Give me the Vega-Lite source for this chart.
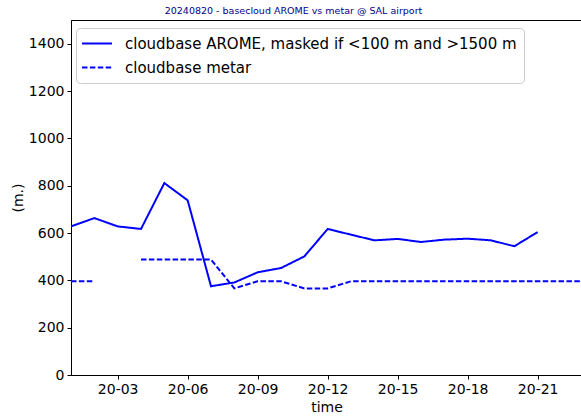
{
  "$schema": "https://vega.github.io/schema/vega-lite/v6.json",
  "width": 511,
  "height": 355,
  "autosize": {"type": "none"},
  "padding": {"left": 71, "top": 20, "right": 0, "bottom": 41},
  "title": {
    "text": "20240820 - basecloud AROME vs metar @ SAL airport",
    "fontSize": 9.5,
    "font": "DejaVu Sans",
    "fontWeight": "normal",
    "color": "#00008b",
    "anchor": "middle",
    "dx": -33,
    "offset": 5
  },
  "config": {
    "font": "DejaVu Sans",
    "view": {"stroke": "#000000", "strokeWidth": 1},
    "axis": {
      "grid": false,
      "labelFont": "DejaVu Sans",
      "titleFont": "DejaVu Sans",
      "labelFontSize": 14,
      "titleFontSize": 14,
      "titleFontWeight": "normal",
      "labelColor": "#000000",
      "titleColor": "#000000",
      "tickColor": "#000000",
      "domainColor": "#000000",
      "tickSize": 4
    },
    "legend": {
      "orient": "none",
      "legendX": 5,
      "legendY": 8,
      "padding": 7,
      "strokeColor": "#cccccc",
      "fillColor": "rgba(255,255,255,0.8)",
      "cornerRadius": 4,
      "symbolType": "M-1.267,0H2.733",
      "symbolSize": 225,
      "symbolStrokeWidth": 2,
      "labelFont": "DejaVu Sans",
      "labelFontSize": 15,
      "labelColor": "#000000",
      "labelOffset": 25,
      "rowPadding": 7,
      "labelLimit": 600
    }
  },
  "data": {
    "values": [
      {"hour": 1, "series": "cloudbase AROME, masked if <100 m and >1500 m", "value": 628},
      {"hour": 2, "series": "cloudbase AROME, masked if <100 m and >1500 m", "value": 663},
      {"hour": 3, "series": "cloudbase AROME, masked if <100 m and >1500 m", "value": 628},
      {"hour": 4, "series": "cloudbase AROME, masked if <100 m and >1500 m", "value": 617},
      {"hour": 5, "series": "cloudbase AROME, masked if <100 m and >1500 m", "value": 811},
      {"hour": 6, "series": "cloudbase AROME, masked if <100 m and >1500 m", "value": 738},
      {"hour": 7, "series": "cloudbase AROME, masked if <100 m and >1500 m", "value": 375},
      {"hour": 8, "series": "cloudbase AROME, masked if <100 m and >1500 m", "value": 391},
      {"hour": 9, "series": "cloudbase AROME, masked if <100 m and >1500 m", "value": 434},
      {"hour": 10, "series": "cloudbase AROME, masked if <100 m and >1500 m", "value": 452},
      {"hour": 11, "series": "cloudbase AROME, masked if <100 m and >1500 m", "value": 501},
      {"hour": 12, "series": "cloudbase AROME, masked if <100 m and >1500 m", "value": 617},
      {"hour": 13, "series": "cloudbase AROME, masked if <100 m and >1500 m", "value": 593},
      {"hour": 14, "series": "cloudbase AROME, masked if <100 m and >1500 m", "value": 569},
      {"hour": 15, "series": "cloudbase AROME, masked if <100 m and >1500 m", "value": 575},
      {"hour": 16, "series": "cloudbase AROME, masked if <100 m and >1500 m", "value": 562},
      {"hour": 17, "series": "cloudbase AROME, masked if <100 m and >1500 m", "value": 572},
      {"hour": 18, "series": "cloudbase AROME, masked if <100 m and >1500 m", "value": 576},
      {"hour": 19, "series": "cloudbase AROME, masked if <100 m and >1500 m", "value": 569},
      {"hour": 20, "series": "cloudbase AROME, masked if <100 m and >1500 m", "value": 544},
      {"hour": 21, "series": "cloudbase AROME, masked if <100 m and >1500 m", "value": 604},
      {"hour": 1, "series": "cloudbase metar", "value": 396},
      {"hour": 2, "series": "cloudbase metar", "value": 396},
      {"hour": 3, "series": "cloudbase metar", "value": null},
      {"hour": 4, "series": "cloudbase metar", "value": 488},
      {"hour": 5, "series": "cloudbase metar", "value": 488},
      {"hour": 6, "series": "cloudbase metar", "value": 488},
      {"hour": 7, "series": "cloudbase metar", "value": 488},
      {"hour": 8, "series": "cloudbase metar", "value": 366},
      {"hour": 9, "series": "cloudbase metar", "value": 396},
      {"hour": 10, "series": "cloudbase metar", "value": 396},
      {"hour": 11, "series": "cloudbase metar", "value": 366},
      {"hour": 12, "series": "cloudbase metar", "value": 366},
      {"hour": 13, "series": "cloudbase metar", "value": 396},
      {"hour": 14, "series": "cloudbase metar", "value": 396},
      {"hour": 15, "series": "cloudbase metar", "value": 396},
      {"hour": 16, "series": "cloudbase metar", "value": 396},
      {"hour": 17, "series": "cloudbase metar", "value": 396},
      {"hour": 18, "series": "cloudbase metar", "value": 396},
      {"hour": 19, "series": "cloudbase metar", "value": 396},
      {"hour": 20, "series": "cloudbase metar", "value": 396},
      {"hour": 21, "series": "cloudbase metar", "value": 396},
      {"hour": 22, "series": "cloudbase metar", "value": 396},
      {"hour": 23, "series": "cloudbase metar", "value": 396}
    ]
  },
  "mark": {"type": "line", "strokeWidth": 2, "clip": true, "invalid": "break-paths-filter-domains"},
  "encoding": {
    "x": {
      "field": "hour",
      "type": "quantitative",
      "scale": {"domain": [1, 22.9], "nice": false, "zero": false},
      "axis": {
        "values": [3, 6, 9, 12, 15, 18, 21],
        "labelExpr": "'20-' + (datum.value < 10 ? '0' : '') + datum.value",
        "title": "time",
        "labelPadding": 3,
        "titlePadding": 4
      }
    },
    "y": {
      "field": "value",
      "type": "quantitative",
      "scale": {"domain": [0, 1500], "nice": false},
      "axis": {
        "values": [0, 200, 400, 600, 800, 1000, 1200, 1400],
        "format": "d",
        "title": "(m.)",
        "labelPadding": 3,
        "titlePadding": 3
      }
    },
    "color": {
      "field": "series",
      "type": "nominal",
      "scale": {
        "domain": ["cloudbase AROME, masked if <100 m and >1500 m", "cloudbase metar"],
        "range": ["#0000ff", "#0000ff"]
      },
      "legend": {"title": null}
    },
    "strokeDash": {
      "field": "series",
      "type": "nominal",
      "scale": {
        "domain": ["cloudbase AROME, masked if <100 m and >1500 m", "cloudbase metar"],
        "range": [[1, 0], [5.5, 2.4]]
      },
      "legend": {"title": null}
    }
  }
}
